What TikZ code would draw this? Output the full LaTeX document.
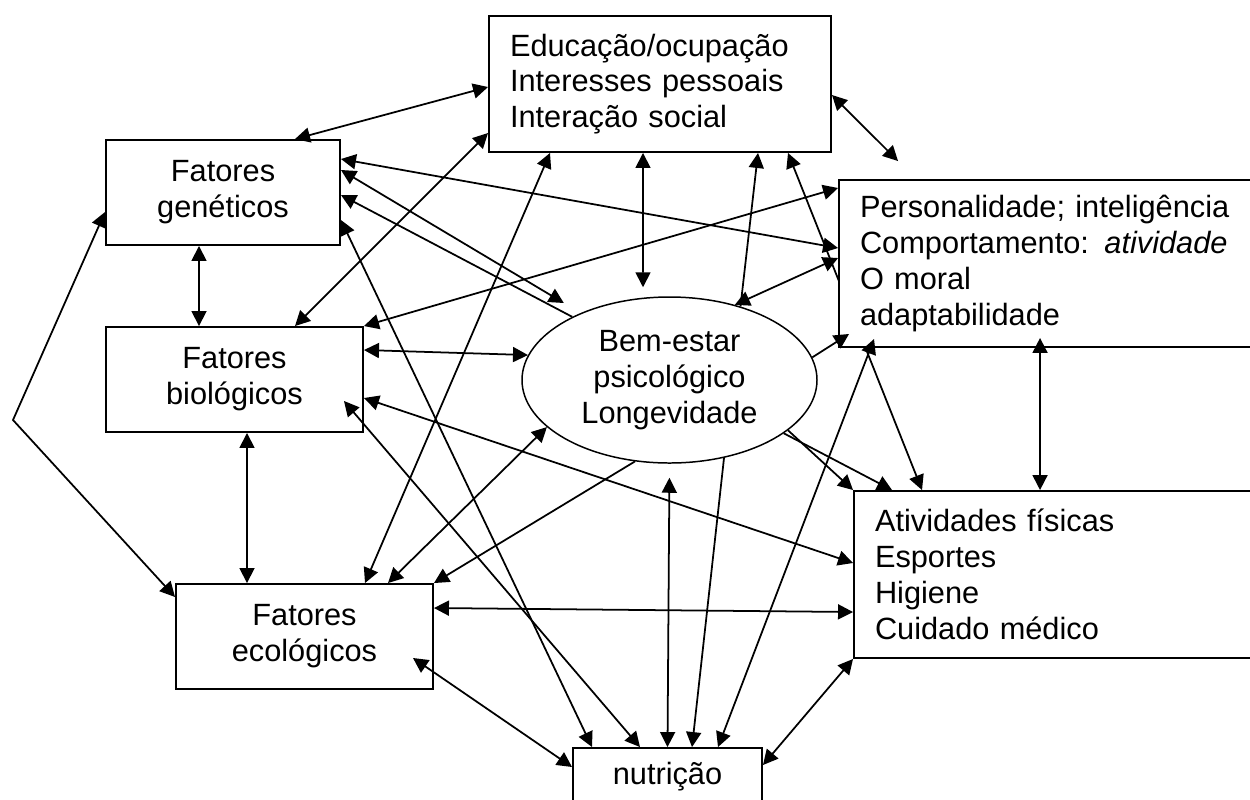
\documentclass[tikz,border=0pt]{standalone}
\usepackage{fontspec}
\setmainfont{Liberation Sans}
\usepackage{tikz}
\usetikzlibrary{arrows.meta}
\usetikzlibrary{shapes}
\tikzstyle{fator} = [rectangle, draw, fill=white, line width=1.1pt, 
align=center, inner sep=0pt, minimum width=5.14cm, minimum height=2.1cm]
\tikzstyle{lista} = [rectangle, draw, fill=white, line width=1.1pt, 
align=left, inner xsep=0.42cm, inner ysep=0pt]
\tikzstyle{centro} = [ellipse, draw, fill=white, line width=0.85pt, 
align=center, inner sep=0pt, minimum width=5.9cm, minimum height=3.32cm]
\tikzstyle{line} = [draw, line width=1pt, -{Triangle[length=0.3cm,width=0.3cm]}]
\tikzstyle{dline} = [draw, line width=1pt, {Triangle[length=0.3cm,width=0.3cm]}-{Triangle[length=0.3cm,width=0.3cm]}]

\begin{document}
\begin{tikzpicture}[font=\fontsize{17.5}{20.4}\selectfont]
	\useasboundingbox (0,0) rectangle (25,-15.98);
	\clip (0,0) rectangle (25,-15.98);
	\node [lista, text width=6cm, minimum height=2.72cm] at (13.2,-1.68) (edu) {Educação/ocupação\\Interesses pessoais\\Interação social};
	\node [fator, minimum width=4.68cm] at (4.46,-3.85) (gen) {Fatores\\genéticos};
	\node [fator] at (4.69,-7.59) (bio) {Fatores\\biológicos};
	\node [fator] at (6.09,-12.73) (eco) {Fatores\\ecológicos};
	\node [fator, minimum width=3.78cm, minimum height=1.16cm] at (13.35,-15.54) (nutr) {nutrição};
	\node [lista, text width=7.76cm, minimum height=3.34cm] at (21.38,-11.49) (ativ) {Atividades físicas\\Esportes\\Higiene\\Cuidado médico};
	\node [centro] at (13.39,-7.6) (bem) {Bem-estar\\psicológico\\Longevidade};
	% passa por tras da caixa pers
	\path [dline] ([xshift=2.56cm]edu.south) -- ([xshift=1.38cm]ativ.north west);
	\node [lista, text width=7.76cm, minimum height=3.34cm] at (21.08,-5.27) (pers) {Personalidade; inteligência\\Comportamento: \textit{atividade}\\O moral\\adaptabilidade};
	% lado esquerdo
	\coordinate (dobra) at (0.26,-8.4);
	\path [dline] ([xshift=-0.48cm]gen.south) -- ([xshift=-0.71cm]bio.north);
	\path [dline] ([xshift=0.25cm]bio.south) -- ([xshift=-1.15cm]eco.north);
	\path [dline] ([yshift=-0.39cm]gen.west) -- (dobra) -- ([yshift=0.79cm]eco.west);
	% edu
	\path [dline] ([xshift=1.44cm]gen.north) -- ([yshift=-0.06cm]edu.west);
	\path [dline] ([xshift=1.21cm]bio.north) -- ([yshift=-0.98cm]edu.west);
	\path [dline] ([xshift=1.21cm]eco.north) -- ([xshift=-2.2cm]edu.south);
	\path [dline, shorten >=0.18cm] ([xshift=-0.34cm]edu.south) -- ([xshift=-0.53cm]bem.north);
	\path [line] (bem.46) -- ([xshift=1.96cm]edu.south);
	\path [dline] ([yshift=-0.22cm]edu.east) -- ([xshift=1.2cm,yshift=0.36cm]pers.north west);
	% gen
	\path [dline] ([yshift=0.67cm]gen.east) -- ([yshift=0.31cm]pers.west);
	\path [dline, shorten >=0.39cm] ([yshift=0.45cm]gen.east) -- (bem.143);
	\path [line] (bem.147) -- ([yshift=-0.05cm]gen.east);
	\path [dline] ([yshift=-0.55cm]gen.east) -- ([xshift=-1.51cm]nutr.north);
	% bio
	\path [dline] (bio.north east) -- ([yshift=1.51cm]pers.west);
	\path [dline] ([yshift=0.59cm]bio.east) -- (bem.170);
	\path [dline] ([yshift=-0.37cm]bio.east) -- ([yshift=0.23cm]ativ.west);
	\path [dline] ([xshift=-0.4cm,yshift=0.64cm]bio.south east) -- ([xshift=-0.55cm]nutr.north);
	% eco
	\path [dline] ([xshift=1.67cm]eco.north) -- (bem.201);
	\path [line] (bem.247) -- (eco.north east);
	\path [dline] ([yshift=0.57cm]eco.east) -- ([yshift=-0.75cm]ativ.west);
	\path [dline] ([xshift=-0.42cm,yshift=0.64cm]eco.south east) -- ([yshift=0.2cm]nutr.west);
	% bem
	\path [dline] ([yshift=0.11cm]pers.west) -- (bem.49);
	\path [line] (bem.9) -- ([xshift=0.22cm,yshift=0.28cm]pers.south west);
	\path [line] (bem.-23) -- (ativ.north west);
	\path [line] (bem.-25) -- ([xshift=0.78cm]ativ.north west);
	\path [dline, shorten <=0.28cm] (bem.south) -- (nutr.north);
	\path [line] (bem.-55) -- ([xshift=0.49cm]nutr.north);
	% lado direito
	\path [dline] ([xshift=4.04cm,yshift=0.2cm]pers.south west) -- ([xshift=3.74cm]ativ.north west);
	\path [dline] ([xshift=0.72cm,yshift=0.18cm]pers.south west) -- ([xshift=1.01cm]nutr.north);
	\path [dline] ([yshift=0.24cm]nutr.east) -- (ativ.south west);
\end{tikzpicture}
\end{document}
